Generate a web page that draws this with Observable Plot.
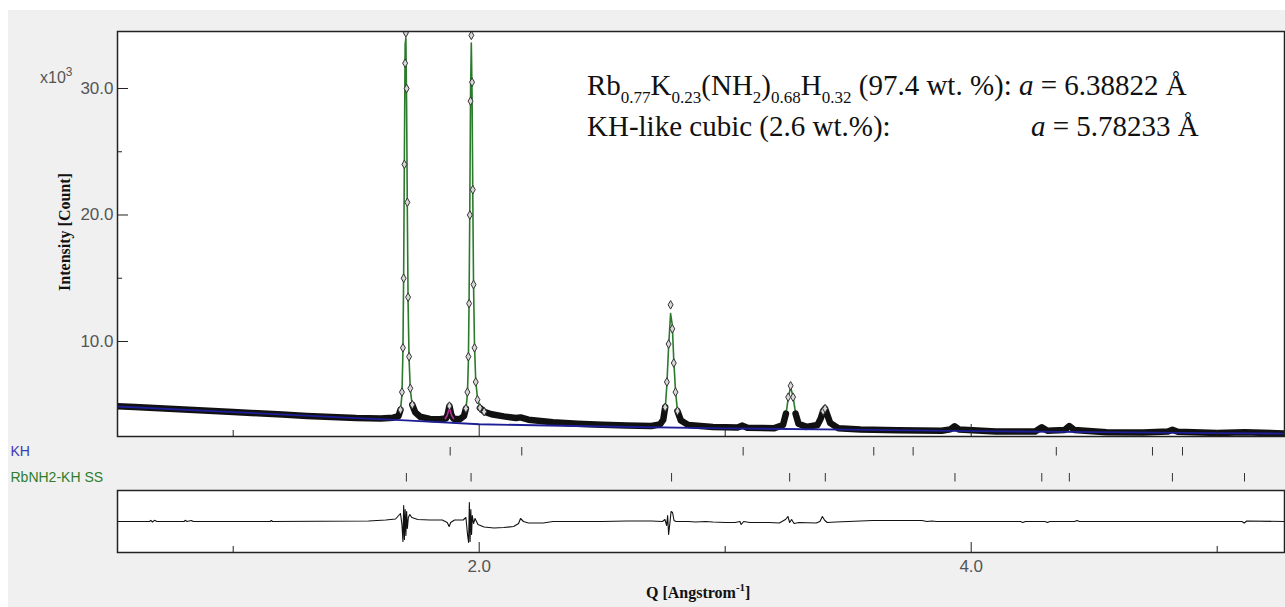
<!DOCTYPE html>
<html><head><meta charset="utf-8">
<script src="https://cdn.jsdelivr.net/npm/d3@7"></script>
<script src="https://cdn.jsdelivr.net/npm/@observablehq/plot@0.6"></script>
<style>
html,body{margin:0;padding:0;background:#fff;width:1285px;height:607px;overflow:hidden;position:relative;}
#panel{position:absolute;left:8px;top:10px;width:1277px;height:597px;background:#f0f0f0;}
</style></head><body>
<div id="panel"></div>
<div id="root"></div>
<script>
// ---------- data (Q in Å^-1, intensities in 10^3 counts) ----------
const qObs = [0.530,0.600,0.700,0.800,0.900,1.000,1.100,1.200,1.300,1.400,1.500,1.600,1.650,1.672,1.680,1.686,1.690,1.693,1.696,1.699,1.702,1.705,1.708,1.711,1.715,1.720,1.728,1.740,1.760,1.800,1.840,1.865,1.872,1.879,1.886,1.895,1.920,1.938,1.946,1.952,1.956,1.959,1.962,1.965,1.968,1.971,1.974,1.977,1.981,1.986,1.993,2.003,2.020,2.050,2.100,2.150,2.168,2.200,2.300,2.400,2.500,2.600,2.700,2.735,2.748,2.756,2.763,2.770,2.778,2.785,2.791,2.798,2.806,2.820,2.850,2.950,3.050,3.070,3.090,3.200,3.235,3.247,3.256,3.266,3.276,3.286,3.298,3.330,3.375,3.388,3.398,3.406,3.415,3.427,3.460,3.550,3.700,3.880,3.915,3.933,3.950,4.100,4.260,4.287,4.310,4.380,4.399,4.420,4.550,4.700,4.800,4.818,4.840,5.000,5.111,5.274];
const iObs = [4.88,4.82,4.73,4.63,4.53,4.43,4.33,4.22,4.12,4.03,3.95,3.92,3.98,4.10,4.60,6.00,9.50,15.0,24.0,32.0,34.4,30.0,21.0,13.5,8.8,6.3,5.0,4.40,4.05,3.88,3.85,3.92,4.25,4.90,4.25,3.90,3.85,4.10,4.70,6.00,8.80,13.0,20.0,29.0,34.2,30.5,22.0,14.5,9.5,6.8,5.4,4.75,4.45,4.25,4.08,3.95,4.00,3.82,3.62,3.50,3.42,3.35,3.32,3.45,3.80,4.80,6.80,9.80,12.9,11.0,8.3,6.0,4.5,3.75,3.40,3.25,3.20,3.35,3.18,3.15,3.40,4.30,5.60,6.50,5.60,4.30,3.50,3.25,3.40,3.90,4.50,4.70,4.20,3.55,3.15,3.05,2.98,2.94,3.05,3.30,3.05,2.88,2.88,3.22,2.95,3.00,3.32,3.00,2.83,2.80,2.88,3.02,2.86,2.77,2.82,2.73];
const iCalc = [4.86,4.80,4.71,4.62,4.52,4.42,4.32,4.22,4.12,4.03,3.95,3.92,3.97,4.08,4.55,5.80,9.20,15.5,25.0,33.5,34.0,28.5,20.0,13.0,8.6,6.2,4.9,4.35,4.02,3.87,3.84,3.95,4.20,4.75,4.25,3.92,3.85,4.05,4.60,5.80,8.40,13.5,21.0,30.0,33.6,29.5,21.5,14.5,9.6,6.9,5.5,4.85,4.55,4.32,4.12,3.95,3.95,3.83,3.62,3.50,3.42,3.35,3.32,3.42,3.75,4.60,6.60,9.60,12.2,11.3,8.5,6.1,4.5,3.75,3.40,3.25,3.20,3.28,3.18,3.15,3.38,4.20,5.50,6.40,5.60,4.35,3.50,3.25,3.40,3.85,4.45,4.65,4.25,3.55,3.15,3.05,2.98,2.94,3.05,3.28,3.05,2.88,2.88,3.20,2.95,3.00,3.30,3.00,2.83,2.80,2.88,3.00,2.86,2.77,2.81,2.73];
const bgQ = [0.530,1.000,1.500,1.700,2.000,2.500,3.000,3.500,4.000,4.500,5.000,5.274];
const bgI = [4.86,4.42,3.94,3.76,3.46,3.28,3.13,3.04,2.92,2.83,2.76,2.72];
const khCalcQ = [1.862,1.870,1.875,1.879,1.883,1.888,1.896];
const khCalcI = [3.90,4.15,4.50,4.80,4.50,4.15,3.90];
const diffQ = [0.530,0.660,0.665,0.672,0.680,0.690,0.800,0.805,0.812,0.830,0.838,1.150,1.155,1.160,1.550,1.620,1.660,1.680,1.686,1.690,1.693,1.696,1.699,1.702,1.705,1.708,1.712,1.718,1.726,1.750,1.800,1.850,1.870,1.878,1.884,1.900,1.935,1.946,1.953,1.957,1.960,1.963,1.966,1.969,1.972,1.977,1.983,1.995,2.020,2.060,2.100,2.140,2.160,2.168,2.180,2.200,2.260,2.300,2.500,2.600,2.700,2.745,2.755,2.762,2.766,2.770,2.775,2.780,2.786,2.792,2.800,2.850,2.880,2.920,2.950,3.000,3.040,3.060,3.065,3.075,3.100,3.180,3.220,3.245,3.255,3.262,3.270,3.280,3.300,3.370,3.385,3.395,3.405,3.415,3.450,3.550,3.600,3.630,3.800,3.820,3.840,3.860,4.000,4.200,4.210,4.220,4.300,4.310,4.320,4.420,4.430,4.440,5.100,5.110,5.120,5.274];
const diffI = [0,0,0.12,-0.05,0.12,0,0,0.12,0,0.1,0,0,0.1,0,0.05,0.15,0.25,0.8,-0.3,-2.0,1.6,-1.8,1.2,-1.4,1.0,-0.7,0.4,0.7,0.4,0.2,0.15,0.15,-0.1,-0.5,-0.1,0.15,0.15,0.4,-1.4,-2.1,1.9,-2.0,1.2,-1.3,0.6,-0.2,0.3,-0.3,-0.55,-0.65,-0.6,-0.5,-0.2,0.3,0,-0.15,-0.15,0,0,0.05,0.05,0,0.2,-0.4,0.6,-1.3,-0.2,1.0,0.9,0.1,0,0,-0.05,0,-0.05,-0.1,-0.1,0,-0.3,0,-0.1,-0.1,-0.15,0.2,0.5,-0.1,0.2,-0.2,-0.1,-0.15,0,0.5,0.1,-0.1,-0.05,0.05,0.1,0.1,0.1,0,0.05,0,0,0,-0.1,0,0,-0.1,0,0,0.1,0,0,-0.15,0.05,0];
const khReflections = [1.882,2.173,3.073,3.604,3.764,4.346,4.737,4.859];
const rbReflections = [1.704,1.967,2.782,3.262,3.407,3.934,4.287,4.399,4.818,5.111];
const phaseLabels = ["KH", "RbNH2-KH SS"];
const yMajor = [10, 20, 30];
const yMinor = [15, 25];
const xMajor = [2, 4];
const xMinor = [1, 3, 5];

// ---------- tables ----------
const obs = qObs.map((q, k) => ({q, i: iObs[k], c: iCalc[k]}));
const bg = bgQ.map((q, k) => ({q, i: bgI[k]}));
const khCalc = khCalcQ.map((q, k) => ({q, i: khCalcI[k]}));
const diff = diffQ.map((q, k) => ({q, d: diffI[k]}));
const refl = [...khReflections.map(q => ({q, p: "KH"})), ...rbReflections.map(q => ({q, p: "RbNH2-KH SS"}))];

const W = 1285, ML = 117, MR = 1;
const plotW = W - ML - MR;
const xDomain = [0.5297, 5.2736];
const font = "'Liberation Sans', Arial, sans-serif";
const root = document.getElementById("root");
function place(svg, top) {
  svg.style.position = "absolute"; svg.style.left = "0px"; svg.style.top = top + "px";
  root.appendChild(svg);
}

// main panel
const mainH = 437, mainTop = 31, mainBottom = 1;
const mainPH = mainH - mainTop - mainBottom;
place(Plot.plot({
  width: W, height: mainH, marginLeft: ML, marginRight: MR, marginTop: mainTop, marginBottom: mainBottom,
  x: {domain: xDomain, axis: null, label: null},
  y: {domain: [2.49, 34.506], axis: null, label: null},
  style: {background: "transparent", fontFamily: font, overflow: "visible"},
  marks: [
    Plot.frame({fill: "white", stroke: null}),
    Plot.line(obs, {x: "q", y: "c", stroke: "#2c7a2c", strokeWidth: 1.6, clip: true}),
    Plot.line(obs, {x: "q", y: d => (d.i <= 5.0 ? d.i : NaN), stroke: "#111", strokeWidth: 6.5, clip: true}),
    Plot.line(bg, {x: "q", y: "i", stroke: "#1e1e96", strokeWidth: 1.8, clip: true}),
    Plot.line(khCalc, {x: "q", y: "i", stroke: "#b8359f", strokeWidth: 1.5, clip: true}),
    Plot.dot(obs, {filter: d => d.q > 1.65 && d.i > 4.4, x: "q", y: "i", symbol: "diamond", r: 2.6, stroke: "#333", fill: "#d8d8d8", strokeWidth: 1, clip: true}),
    Plot.tickY(yMajor, {y: d => d, insetRight: plotW - 11, stroke: "#222"}),
    Plot.tickY(yMinor, {y: d => d, insetRight: plotW - 5, stroke: "#222"}),
    Plot.tickX(xMajor, {x: d => d, insetTop: mainPH - 12, stroke: "#222"}),
    Plot.tickX(xMinor, {x: d => d, insetTop: mainPH - 6, stroke: "#222"}),
    Plot.axisY(yMajor, {anchor: "left", tickSize: 0, tickPadding: 4, tickFormat: d => d.toFixed(1), fill: "#555", fontSize: 17, label: null}),
    Plot.frame({stroke: "#222", strokeWidth: 1.5})
  ]
}), 0);

// reflection tick rows
place(Plot.plot({
  width: W, height: 53, marginLeft: ML, marginRight: MR, marginTop: 0, marginBottom: 0,
  x: {domain: xDomain, axis: null, label: null},
  y: {domain: phaseLabels, axis: null, padding: 0, label: null},
  style: {background: "transparent", fontFamily: font, overflow: "visible"},
  marks: [
    Plot.tickX(refl, {x: "q", y: "p", insetTop: 9, insetBottom: 8.5, stroke: "#333", strokeWidth: 1}),
    Plot.text(phaseLabels, {y: d => d, frameAnchor: "left", textAnchor: "start", dx: -(ML - 10), fontSize: 14,
      fill: d => (d === "KH" ? "#3a3ab4" : "#2e7d2e")})
  ]
}), 437);

// difference panel
const diffH = 118, diffTop = 1, diffBottom = 55;
const diffPH = diffH - diffTop - diffBottom;
place(Plot.plot({
  width: W, height: diffH, marginLeft: ML, marginRight: MR, marginTop: diffTop, marginBottom: diffBottom,
  x: {domain: xDomain, axis: null, label: null},
  y: {domain: [-3.1, 3.1], axis: null, label: null},
  style: {background: "transparent", fontFamily: font, overflow: "visible"},
  marks: [
    Plot.frame({fill: "white", stroke: null}),
    Plot.line(diff, {x: "q", y: "d", stroke: "#111", strokeWidth: 1.1, clip: true}),
    Plot.tickX(xMajor, {x: d => d, insetTop: diffPH - 10, stroke: "#222"}),
    Plot.tickX(xMinor, {x: d => d, insetTop: diffPH - 6, stroke: "#222"}),
    Plot.axisX(xMajor, {anchor: "bottom", tickSize: 0, tickPadding: 7, tickFormat: d => d.toFixed(1), fill: "#555", fontSize: 17, label: null}),
    Plot.frame({stroke: "#222", strokeWidth: 1.5})
  ]
}), 489);

// ---------- overlay text ----------
const ov = d3.select(root).append("svg")
  .attr("width", W).attr("height", 607)
  .style("position", "absolute").style("left", "0px").style("top", "0px").style("pointer-events", "none");

function rich(x, y, parts, opts) {
  const t = ov.append("text").attr("x", x).attr("y", y)
    .attr("font-family", opts.family).attr("font-size", opts.size).attr("fill", opts.fill || "#111")
    .attr("font-weight", opts.weight || "normal");
  if (opts.transform) t.attr("transform", opts.transform).attr("x", 0).attr("y", 0).attr("text-anchor", "middle");
  let shift = 0;
  for (const [s, kind] of parts) {
    const target = kind === "sub" ? opts.subShift : kind === "sup" ? -opts.supShift : 0;
    const ts = t.append("tspan").text(s).attr("dy", target - shift);
    shift = target;
    if (kind === "sub" || kind === "sup") ts.attr("font-size", opts.smallSize);
    if (kind === "it") ts.attr("font-style", "italic");
  }
  return t;
}
const serif = "'Liberation Serif', 'Times New Roman', serif";
rich(40, 83, [["x10", null], ["3", "sup"]], {family: font, size: 16, fill: "#555", smallSize: 12, supShift: 7});
rich(0, 0, [["Intensity [Count]", null]], {family: serif, size: 16, weight: "bold", transform: "translate(70,232) rotate(-90)"});
rich(646, 598, [["Q [Angstrom", null], ["-1", "sup"], ["]", null]], {family: serif, size: 16, weight: "bold", smallSize: 11, supShift: 7});
rich(587, 95, [["Rb", null], ["0.77", "sub"], ["K", null], ["0.23", "sub"], ["(NH", null], ["2", "sub"], [")", null], ["0.68", "sub"], ["H", null], ["0.32", "sub"], [" (97.4 wt. %): ", null], ["a", "it"], [" = 6.38822 Å", null]],
  {family: serif, size: 29, smallSize: 17, subShift: 8});
rich(587, 136, [["KH-like cubic (2.6 wt.%):", null]], {family: serif, size: 29});
rich(1031, 136, [["a", "it"], [" = 5.78233 Å", null]], {family: serif, size: 29});
</script>
</body></html>
